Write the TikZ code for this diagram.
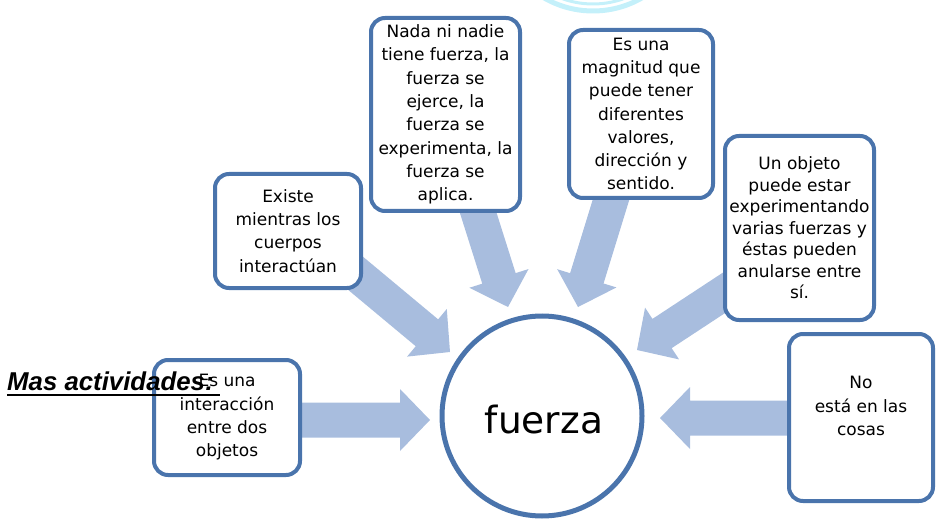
\documentclass[tikz,border=0pt]{standalone}
\usepackage{fontspec}
\setmainfont{DejaVu Sans}
\newfontfamily\arialf{Liberation Sans}
\usetikzlibrary{calc}
\definecolor{boxblue}{RGB}{74,116,172}
\definecolor{arrowfill}{RGB}{168,189,222}
\definecolor{ringcyan}{RGB}{196,240,250}
\newcommand\blockarrow[3]{%
  \coordinate (#3h) at ($(#2)!30pt!(#1)$);
  \fill[arrowfill] ($(#1)!17.5pt!90:(#2)$) -- ($(#3h)!17.5pt!90:(#2)$) -- ($(#3h)!31pt!90:(#2)$) -- (#2)
    -- ($(#3h)!31pt!-90:(#2)$) -- ($(#3h)!17.5pt!-90:(#2)$) -- ($(#1)!17.5pt!-90:(#2)$) -- cycle;
}
\tikzset{
  box/.style={draw=boxblue, line width=4pt, fill=white, rounded corners=14pt, align=center,
    font=\fontsize{17}{23.3}\selectfont, inner sep=2pt},
  hub/.style={circle, draw=boxblue, line width=5pt, fill=white, minimum size=200pt, inner sep=0pt},
}
\begin{document}
\begin{tikzpicture}[x=1pt,y=-1pt]
\useasboundingbox (0,0) rectangle (939,529);
\begin{scope}
  \clip (0,0) rectangle (939,529);
  \draw[ringcyan, line width=5pt] (593,-87) circle (98);
  \draw[ringcyan, line width=3pt] (593,-87) circle (91);
\end{scope}

% arrow end points
\coordinate (s1) at (285,420);  \coordinate (t1) at (430,420);
\coordinate (s2) at (330,252);  \coordinate (t2) at (450,352);
\coordinate (s3) at (471,190);  \coordinate (t3) at (508,307);
\coordinate (s4) at (614,190);  \coordinate (t4) at (578,307);
\coordinate (s5) at (742,281);  \coordinate (t5) at (637,350);
\coordinate (s6) at (800,418);  \coordinate (t6) at (660,418);
\blockarrow{s1}{t1}{a1}
\blockarrow{s2}{t2}{a2}
\blockarrow{s3}{t3}{a3}
\blockarrow{s4}{t4}{a4}
\blockarrow{s5}{t5}{a5}
\blockarrow{s6}{t6}{a6}

\node[hub] (c) at (542,416) {};
\node[font=\fontsize{37.5}{40}\selectfont] (ct) at (544,420) {fuerza};

\node[box, minimum width=146pt, minimum height=115pt] (b1) at (227,417.5)
  {Es una\\interacción\\entre dos\\objetos};
\node[box, minimum width=146pt, minimum height=114pt] (b2) at (288,231)
  {Existe\\mientras los\\cuerpos\\interactúan};
\node[box, minimum width=149pt, minimum height=193pt] (b3) at (445.5,114.5)
  {Nada ni nadie\\tiene fuerza, la\\fuerza se\\ejerce, la\\fuerza se\\experimenta, la\\fuerza se\\aplica.};
\node[box, minimum width=144pt, minimum height=168pt] (b4) at (641,114)
  {Es una\\magnitud que\\puede tener\\diferentes\\valores,\\dirección y\\sentido.};
\node[box, minimum width=149pt, minimum height=184pt, font=\fontsize{17}{21.5}\selectfont] (b5) at (799.5,228)
  {Un objeto\\puede estar\\experimentando\\varias fuerzas y\\éstas pueden\\anularse entre\\sí.};
\node[box, minimum width=144pt, minimum height=167pt] (b6) at (861,417.5) {};
\node[align=center, font=\fontsize{17}{23.3}\selectfont] (b6t) at (861,406)
  {No\\está en las\\cosas};

\node[anchor=base west, inner sep=0pt, font=\arialf\bfseries\itshape\fontsize{25.8}{29}\selectfont] (mas) at (7,390) {Mas actividades:};
\draw[line width=2.5pt] ([yshift=-5pt]mas.base west) -- ([yshift=-5pt,xshift=6pt]mas.base east);
\end{tikzpicture}
\end{document}
